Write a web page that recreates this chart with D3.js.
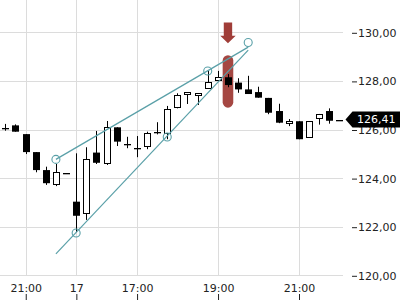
<!DOCTYPE html>
<html>
<head>
<meta charset="utf-8">
<script src="https://cdn.jsdelivr.net/npm/d3@7"></script>
<style>
  body { margin: 0; background: #fff; }
  text { font-family: "DejaVu Sans", sans-serif; font-size: 11px; }
</style>
</head>
<body>
<div class="chart"></div>
<script>
let svgWidth = 400;
let svgHeight = 300;

// 15 min candles
let opens  = [126.05, 126.17, 125.81, 125.07, 124.33, 123.73, 124.22, 123.03, 122.51, 125.05,
              124.58, 126.09, 125.39, 125.25, 125.25, 125.88, 125.84, 126.87, 127.42, 127.38,
              127.67, 127.98, 128.15, 127.93, 127.65, 127.54, 127.30, 126.76, 126.21, 126.34,
              125.65, 126.42, 126.76, 126.41];
let highs  = [126.23, 126.21, 125.81, 125.07, 124.47, 124.58, 124.22, 125.02, 125.27, 125.94,
              126.35, 126.09, 125.70, 125.73, 125.91, 126.30, 126.97, 127.49, 127.53, 127.49,
              128.41, 128.41, 128.28, 128.11, 128.21, 127.76, 127.30, 127.06, 126.43, 126.34,
              126.34, 126.64, 126.87, 126.41];
let lows   = [125.95, 125.91, 124.99, 124.24, 123.72, 123.67, 124.22, 121.78, 122.28, 124.58,
              124.54, 125.32, 125.23, 124.86, 125.19, 125.80, 125.60, 126.87, 127.05, 127.01,
              127.67, 127.98, 127.74, 127.51, 127.46, 127.31, 126.63, 126.26, 126.14, 125.60,
              125.65, 126.20, 126.24, 126.41];
let closes = [126.05, 125.91, 125.07, 124.33, 123.79, 124.25, 124.22, 122.45, 124.77, 124.63,
              126.09, 125.50, 125.39, 125.25, 125.84, 125.88, 126.86, 127.41, 127.53, 127.49,
              127.97, 128.15, 127.83, 127.65, 127.46, 127.31, 126.69, 126.28, 126.35, 125.60,
              126.34, 126.64, 126.36, 126.41];

let xTickIndex = [2, 7, 13, 21, 29];
let xTickLabels = ["21:00", "17", "17:00", "19:00", "21:00"];
let yTicks = [120, 122, 124, 126, 128, 130];

let lastPrice = 126.41;

// drawn trend lines: [index, price] pairs
let upperLine = [[5, 124.77], [24, 129.39]];
let lowerLine = [[5, 120.88], [24, 129.27]];
let anchorIndex = [5, 7, 16, 20, 24];
let anchorPrice = [124.77, 121.74, 125.69, 128.41, 129.58];

// sell signal
let signalIndex = 22;
let signalTop = 129.06;
let signalBottom = 126.90;
let arrowTop = 130.40;
let arrowTip = 129.55;

let candles = opens.map((o, i) => ({
  i: i, open: o, high: highs[i], low: lows[i], close: closes[i]
}));

let svg = d3.select(".chart")
    .append("svg")
    .attr("width", svgWidth)
    .attr("height", svgHeight);

let x = d3.scaleLinear()
    .domain([0, candles.length - 1])
    .range([5.3, 339.3]);

let y = d3.scaleLinear()
    .domain([120, 130])
    .range([275.3, 32.3]);

let px = v => Math.round(v) + 0.5;

// grid
svg.append("g")
  .selectAll("line")
  .data(yTicks)
  .enter()
  .append("line")
    .attr("x1", 0)
    .attr("x2", 343)
    .attr("y1", d => px(y(d)))
    .attr("y2", d => px(y(d)))
    .attr("stroke", "#dcdcdc");

svg.append("g")
  .selectAll("line")
  .data(xTickIndex)
  .enter()
  .append("line")
    .attr("x1", d => px(x(d)))
    .attr("x2", d => px(x(d)))
    .attr("y1", 0)
    .attr("y2", px(y(120)))
    .attr("stroke", "#dcdcdc");

// right price axis
let yAxis = svg.append("g")
    .attr("transform", "translate(352, 0.5)")
    .call(d3.axisRight(y)
      .tickValues(yTicks)
      .tickSize(5)
      .tickPadding(1)
      .tickFormat(d => d3.format(".2f")(d).replace(".", ",")));
yAxis.select(".domain").remove();
yAxis.selectAll("line").attr("stroke", "#222");
yAxis.selectAll("text")
    .attr("fill", "#222")
    .style("font-family", "DejaVu Sans")
    .style("font-size", "11px");

// time axis
let xAxis = svg.append("g")
    .attr("transform", "translate(0.5, 294)")
    .call(d3.axisBottom(d3.scaleLinear().domain(x.domain()).range(x.range().map(Math.round)))
      .tickValues(xTickIndex)
      .tickSize(6)
      .tickFormat((d, k) => xTickLabels[k]));
xAxis.select(".domain").remove();
xAxis.selectAll("line").attr("stroke", "#222");
xAxis.selectAll("text")
    .attr("y", -2.5)
    .attr("dy", 0)
    .attr("fill", "#222")
    .style("font-family", "DejaVu Sans")
    .style("font-size", "11px");

// signal highlight + arrow
let red = "#a03d38";
let sx = x(signalIndex);
svg.append("rect")
    .attr("x", sx - 5.3)
    .attr("y", y(signalTop))
    .attr("width", 10.6)
    .attr("height", y(signalBottom) - y(signalTop))
    .attr("rx", 5.3)
    .attr("fill", red)
    .attr("opacity", 0.95);

let aTop = y(arrowTop), aTip = y(arrowTip), aNeck = aTip - 7.5;
svg.append("path")
    .attr("d", `M${sx - 4.2},${aTop} H${sx + 4.2} V${aNeck} H${sx + 7.7} L${sx},${aTip} L${sx - 7.7},${aNeck} H${sx - 4.2} Z`)
    .attr("fill", red);

// candles
let candleG = svg.append("g")
  .selectAll("g")
  .data(candles)
  .enter()
  .append("g");

candleG.append("line")
    .attr("x1", d => Math.round(x(d.i)) + 0.5)
    .attr("x2", d => Math.round(x(d.i)) + 0.5)
    .attr("y1", d => y(d.high))
    .attr("y2", d => y(d.low))
    .attr("stroke", "#000");

candleG.each(function(d) {
  let g = d3.select(this);
  let cx = Math.round(x(d.i));
  let top = y(Math.max(d.open, d.close));
  let bot = y(Math.min(d.open, d.close));
  if (bot - top < 1.2) {
    g.append("rect")
        .attr("x", cx - 3)
        .attr("y", Math.round(top))
        .attr("width", 7)
        .attr("height", 1.3)
        .attr("fill", "#000");
  } else if (d.close > d.open) {
    g.append("rect")
        .attr("x", cx - 2.5)
        .attr("y", Math.round(top) + 0.5)
        .attr("width", 6)
        .attr("height", Math.max(1, Math.round(bot - top) - 1))
        .attr("fill", "#fff")
        .attr("stroke", "#000");
  } else {
    g.append("rect")
        .attr("x", cx - 3)
        .attr("y", top)
        .attr("width", 7)
        .attr("height", bot - top)
        .attr("fill", "#000");
  }
});

// trend lines
let teal = "#5aa0a8";
let line = d3.line()
    .x(d => x(d[0]))
    .y(d => y(d[1]));

[upperLine, lowerLine].forEach(l => {
  svg.append("path")
      .attr("d", line(l))
      .attr("fill", "none")
      .attr("stroke", teal)
      .attr("stroke-width", 1.2);
});

svg.append("g")
  .selectAll("circle")
  .data(anchorIndex)
  .enter()
  .append("circle")
    .attr("cx", d => x(d))
    .attr("cy", (d, k) => y(anchorPrice[k]))
    .attr("r", 4)
    .attr("fill", "none")
    .attr("stroke", teal)
    .attr("stroke-width", 1.1);

// last price tag
let ly = y(lastPrice);
svg.append("path")
    .attr("d", `M345.5,${ly} L352.5,${ly - 8} H400 V${ly + 8} H352.5 Z`)
    .attr("fill", "#000");

svg.append("text")
    .attr("x", 357)
    .attr("y", ly)
    .attr("dy", "0.36em")
    .attr("fill", "#fff")
    .text(d3.format(".2f")(lastPrice).replace(".", ","));
</script>
</body>
</html>
